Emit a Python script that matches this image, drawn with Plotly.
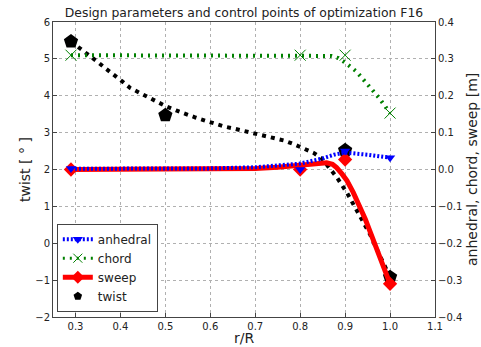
import plotly.graph_objects as go

title = "Design parameters and control points of optimization F16"
x_label = "r/R"
y_label = "twist [ ° ]"
y2_label = "anhedral, chord, sweep [m]"
x_ticks = [0.3, 0.4, 0.5, 0.6, 0.7, 0.8, 0.9, 1.0, 1.1]

# twist (left axis) - smooth curve and control points
twist_x = [0.29, 0.315, 0.333, 0.35, 0.368, 0.387, 0.404, 0.422, 0.442, 0.461, 0.481, 0.502,
           0.524, 0.545, 0.567, 0.59, 0.611, 0.633, 0.656, 0.674, 0.70, 0.722, 0.763, 0.785,
           0.807, 0.83, 0.848, 0.882, 0.905, 0.933, 0.955, 0.97, 0.985, 1.0]
twist_y = [5.47, 5.25, 5.09, 4.91, 4.73, 4.56, 4.39, 4.21, 4.08, 3.95, 3.83, 3.71,
           3.60, 3.50, 3.41, 3.32, 3.24, 3.16, 3.10, 3.05, 2.98, 2.92, 2.79, 2.69,
           2.58, 2.45, 2.30, 1.78, 1.35, 0.75, 0.25, -0.15, -0.55, -0.92]
twist_cx = [0.29, 0.5, 0.9, 1.0]
twist_cy = [5.47, 3.47, 2.52, -0.92]

# anhedral (right axis)
anh_x = [0.29, 0.4, 0.5, 0.6, 0.7, 0.75, 0.8, 0.85, 0.875, 0.9, 0.925, 0.95, 0.975, 1.0]
anh_y = [0.002, 0.002, 0.002, 0.003, 0.006, 0.010, 0.016, 0.030, 0.040, 0.046, 0.044, 0.040, 0.036, 0.032]
anh_cx = [0.29, 0.8, 0.9, 1.0]
anh_cy = [0.003, 0.0, 0.05, 0.032]

# chord (right axis)
chord_x = [0.29, 0.4, 0.5, 0.6, 0.7, 0.8, 0.85, 0.87, 0.885, 0.9, 0.925, 0.95, 0.975, 1.0]
chord_y = [0.31, 0.31, 0.31, 0.31, 0.31, 0.31, 0.31, 0.308, 0.302, 0.29, 0.266, 0.232, 0.195, 0.153]
chord_cx = [0.29, 0.8, 0.9, 1.0]
chord_cy = [0.31, 0.31, 0.31, 0.153]

# sweep (right axis)
sweep_x = [0.29, 0.4, 0.5, 0.6, 0.65, 0.7, 0.75, 0.8, 0.83, 0.859, 0.872, 0.881, 0.893, 0.904,
           0.918, 0.933, 0.945, 0.956, 0.967, 0.978, 0.99, 1.0]
sweep_y = [0.0, 0.0, 0.0, 0.0, 0.001, 0.003, 0.006, 0.011, 0.015, 0.018, 0.014, 0.005, -0.012, -0.03,
           -0.062, -0.10, -0.135, -0.17, -0.207, -0.245, -0.285, -0.31]
sweep_cx = [0.29, 0.8, 0.9, 1.0]
sweep_cy = [0.0, 0.0, 0.027, -0.31]

FONT = "DejaVu Sans"
TXT = "#222222"
fig = go.Figure()

# twist on left axis (drawn below)
fig.add_trace(go.Scatter(x=twist_x, y=twist_y, mode="lines", showlegend=False,
                         line=dict(color="black", width=4, dash="4px,5px")))
fig.add_trace(go.Scatter(x=twist_cx, y=twist_cy, mode="markers", showlegend=False,
                         marker=dict(symbol="pentagon", size=15, color="black")))

# right-axis series
fig.add_trace(go.Scatter(x=sweep_x, y=sweep_y, yaxis="y2", mode="lines", showlegend=False,
                         line=dict(color="#ff0000", width=5)))
fig.add_trace(go.Scatter(x=sweep_cx, y=sweep_cy, yaxis="y2", mode="markers", showlegend=False,
                         marker=dict(symbol="diamond", size=11, color="#ff0000")))
fig.add_trace(go.Scatter(x=chord_x, y=chord_y, yaxis="y2", mode="lines", showlegend=False,
                         line=dict(color="#008000", width=4, dash="2px,5px")))
fig.add_trace(go.Scatter(x=chord_cx, y=chord_cy, yaxis="y2", mode="markers", showlegend=False,
                         marker=dict(symbol="x-thin-open", size=11, color="#008000",
                                     line=dict(color="#008000", width=1))))
fig.add_trace(go.Scatter(x=anh_x, y=anh_y, yaxis="y2", mode="lines", showlegend=False,
                         line=dict(color="#0000ff", width=4, dash="2px,2px")))
fig.add_trace(go.Scatter(x=anh_cx, y=anh_cy, yaxis="y2", mode="markers", showlegend=False,
                         marker=dict(symbol="triangle-down", size=9, color="#0000ff")))

# legend entries
fig.add_trace(go.Scatter(x=[None], y=[None], yaxis="y2", mode="lines+markers", name="anhedral",
                         legendrank=1,
                         line=dict(color="#0000ff", width=4, dash="2px,2px"),
                         marker=dict(symbol="triangle-down", size=9, color="#0000ff")))
fig.add_trace(go.Scatter(x=[None], y=[None], yaxis="y2", mode="lines+markers", name="chord",
                         legendrank=2,
                         line=dict(color="#008000", width=3, dash="2px,5px"),
                         marker=dict(symbol="x-thin-open", size=9, color="#008000",
                                     line=dict(color="#008000", width=1))))
fig.add_trace(go.Scatter(x=[None], y=[None], yaxis="y2", mode="lines+markers", name="sweep",
                         legendrank=3,
                         line=dict(color="#ff0000", width=5),
                         marker=dict(symbol="diamond", size=10, color="#ff0000")))
fig.add_trace(go.Scatter(x=[None], y=[None], mode="markers", name="twist",
                         legendrank=4,
                         marker=dict(symbol="pentagon", size=9, color="black")))

axis_common = dict(showline=True, linecolor="#444444", linewidth=1, ticks="inside",
                   ticklen=4, tickcolor="#444444", zeroline=False, automargin=False,
                   tickfont=dict(family=FONT, size=10, color=TXT))

L, R, T, B = 53, 46, 22, 30
PW, PH = 481 - L - R, 347 - T - B

fig.update_layout(
    width=481, height=347,
    margin=dict(l=L, r=R, t=T, b=B),
    paper_bgcolor="white", plot_bgcolor="white",
    font=dict(family=FONT, color=TXT),
    title=dict(text=title, x=(53 + 435) / 2 / 481, xanchor="center",
               y=1 - 13 / 347, yanchor="middle",
               font=dict(family=FONT, size=12.4, color=TXT)),
    xaxis=dict(range=[0.25, 1.1], tickvals=x_ticks, tickformat=".1f", mirror=True,
               showgrid=True, gridcolor="#b0b0b0", griddash="dot", gridwidth=1,
               **axis_common),
    yaxis=dict(range=[-2, 6], dtick=1, showgrid=True, gridcolor="#b0b0b0", griddash="dot",
               gridwidth=1, **axis_common),
    yaxis2=dict(range=[-0.4, 0.4], dtick=0.1, tickformat=".1f", overlaying="y", side="right",
                showgrid=False, **axis_common),
    legend=dict(x=0.01, y=0.018, xanchor="left", yanchor="bottom",
                bgcolor="white", bordercolor="#444444", borderwidth=1,
                font=dict(family=FONT, size=12, color=TXT),
                tracegroupgap=0, itemwidth=30),
    showlegend=True,
    annotations=[
        dict(text=x_label, xref="paper", yref="paper", x=0.5, y=-(338 - (347 - B)) / PH,
             xanchor="center", yanchor="middle", showarrow=False,
             font=dict(family=FONT, size=14, color=TXT)),
        dict(text=y_label, xref="paper", yref="paper", x=(24.5 - L) / PW, y=0.5,
             xanchor="center", yanchor="middle", textangle=-90, showarrow=False,
             font=dict(family=FONT, size=14, color=TXT)),
        dict(text=y2_label, xref="paper", yref="paper", x=(471.5 - L) / PW, y=0.5,
             xanchor="center", yanchor="middle", textangle=-90, showarrow=False,
             font=dict(family=FONT, size=14, color=TXT)),
    ],
)

fig.write_html("out.html")
